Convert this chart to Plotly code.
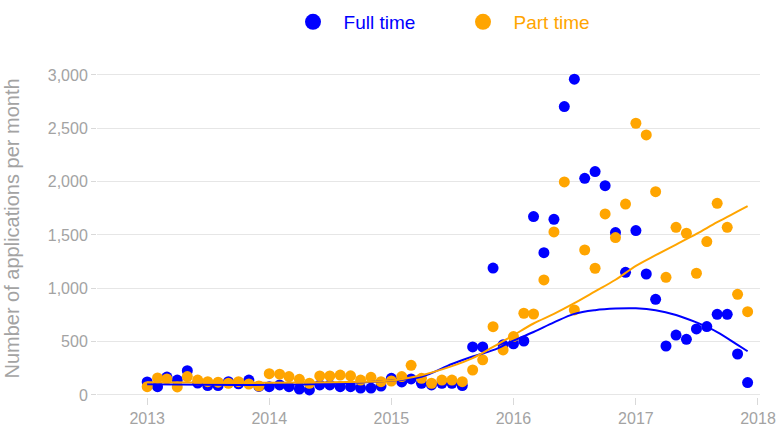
import plotly.graph_objects as go
import pandas as pd

# monthly applications, Jan 2013 - Dec 2017
months = pd.date_range('2013-01-01', periods=60, freq='MS')

full_time = [122, 78, 168, 140, 228, 112, 88, 88, 125, 105, 140, 80,
             78, 94, 78, 56, 47, 94, 94, 78, 78, 65, 65, 84,
             156, 122, 150, 110, 94, 110, 110, 88, 450, 450, 1190, 470,
             480, 506, 1672, 1334, 1647, 2703, 2960, 2031, 2094, 1962, 1522, 1150,
             1541, 1134, 897, 459, 562, 522, 619, 641, 756, 756, 384, 116]

part_time = [78, 160, 150, 75, 172, 140, 125, 120, 110, 125, 103, 84,
             200, 195, 172, 147, 110, 178, 178, 187, 180, 140, 165, 125,
             131, 172, 278, 156, 110, 140, 140, 125, 234, 330, 640, 422,
             547, 766, 759, 1078, 1528, 1997, 797, 1359, 1188, 1697, 1475, 1790,
             2547, 2438, 1906, 1103, 1572, 1516, 1141, 1438, 1797, 1572, 944, 781]

# smoothed trend
trend_months = ['2013-01-01', '2013-07-01', '2014-01-01', '2014-07-01', '2015-01-01',
                '2015-04-01', '2015-07-01', '2015-09-01', '2015-11-01', '2016-01-01',
                '2016-03-01', '2016-05-01', '2016-07-01', '2016-09-01', '2016-11-01',
                '2017-01-01', '2017-03-01', '2017-05-01', '2017-07-01', '2017-09-01',
                '2017-11-01', '2017-12-01']
full_trend = [100, 95, 95, 105, 135, 170, 290, 360, 420, 510, 590, 680, 760, 795, 810,
              812, 795, 750, 680, 590, 470, 410]
part_trend = [120, 118, 115, 120, 135, 185, 270, 345, 450, 560, 670, 760, 860, 970, 1080,
              1210, 1310, 1410, 1510, 1620, 1720, 1770]

BLUE = '#0000FF'
ORANGE = '#FFA500'
GREY = '#a3a3a3'

fig = go.Figure()

fig.add_trace(go.Scatter(x=months, y=full_time, mode='markers', showlegend=False,
                         marker=dict(color=BLUE, size=11)))
fig.add_trace(go.Scatter(x=months, y=part_time, mode='markers', showlegend=False,
                         marker=dict(color=ORANGE, size=11)))
fig.add_trace(go.Scatter(x=trend_months, y=full_trend, mode='lines', showlegend=False,
                         line=dict(color=BLUE, width=2, shape='spline')))
fig.add_trace(go.Scatter(x=trend_months, y=part_trend, mode='lines', showlegend=False,
                         line=dict(color=ORANGE, width=2, shape='spline')))

# legend-only entries
fig.add_trace(go.Scatter(x=[None], y=[None], mode='markers',
                         name=f"<span style='color:{BLUE}'>&nbsp;&nbsp;Full time</span>",
                         marker=dict(color=BLUE, size=16)))
fig.add_trace(go.Scatter(x=[None], y=[None], mode='markers',
                         name=f"<span style='color:{ORANGE}'>&nbsp;&nbsp;Part time</span>",
                         marker=dict(color=ORANGE, size=16)))

fig.update_layout(width=776, height=425,
                  margin=dict(l=97, r=16, t=60, b=28, autoexpand=False),
                  plot_bgcolor='white',
                  paper_bgcolor='white',
                  font=dict(family='Arial, Liberation Sans', size=16, color=GREY),
                  legend=dict(orientation='h', xref='container', yref='container',
                              x=463 / 776, xanchor='center', y=1 - 22 / 425, yanchor='middle',
                              font=dict(size=19), entrywidth=125),
                  )

fig.update_xaxes(range=['2012-08-04', '2018-01-07'],
                 showgrid=False, zeroline=False, showline=False,
                 ticks='outside', ticklen=7, tickcolor='#d9d9d9',
                 dtick='M12', tick0='2013-01-01', tickformat='%Y',
                 ticklabeloverflow='allow',
                 tickfont=dict(size=16, color=GREY))
fig.update_yaxes(range=[-19, 3140],
                 showgrid=True, gridcolor='#e6e6e6', gridwidth=1,
                 zeroline=False, showline=False,
                 ticks='outside', ticklen=5, tickcolor='#d9d9d9',
                 tickvals=[0, 500, 1000, 1500, 2000, 2500, 3000],
                 tickformat=',', tickfont=dict(size=16, color=GREY),
                 title=dict(text='Number of applications per month', font=dict(size=20, color=GREY),
                            standoff=22))

# drop the default page margin so the figure fills the window
fig.write_html("out.html", config={'displayModeBar': False},
               post_script="document.body.style.margin='0';document.body.style.overflow='hidden';")
